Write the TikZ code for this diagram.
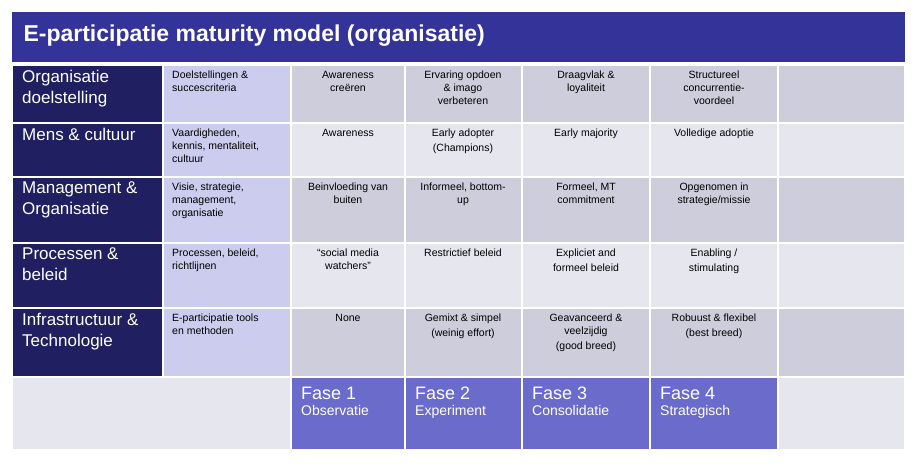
\documentclass[tikz,border=0pt]{standalone}
\usepackage{fontspec}
\setmainfont{Liberation Sans}
\usetikzlibrary{positioning}
\definecolor{titleblue}{HTML}{33339A}
\definecolor{navy}{HTML}{201F62}
\definecolor{lavender}{HTML}{CCCCEE}
\definecolor{rowdark}{HTML}{CDCDDC}
\definecolor{rowlight}{HTML}{E6E6EE}
\definecolor{fase}{HTML}{6B6BCC}
\tikzset{
  box/.style={draw=white, line width=1.5pt},
  cell/.style={anchor=north, align=center, font=\fontsize{10.5}{13}\selectfont, inner sep=0pt},
  lcell/.style={anchor=north west, align=left, font=\fontsize{10.5}{13}\selectfont, inner sep=0pt},
  head/.style={anchor=north west, align=left, text=white, font=\fontsize{17}{21}\selectfont, inner sep=0pt},
}
\begin{document}
\begin{tikzpicture}[x=1pt, y=-1pt]
\useasboundingbox (0,0) rectangle (918,463);
% title
\fill[titleblue] (12,12) rectangle (905,62);
\node[anchor=west, text=white, font=\fontsize{23}{27}\selectfont\bfseries] (title) at (20,36) {E-participatie maturity model (organisatie)};
% rows: top/bottom/colour/header/criteria/fase 1..4
\foreach \r/\t/\b/\c/\h/\k/\a/\bb/\cc/\dd in {
  1/65/123/rowdark/{Organisatie\\doelstelling}/{Doelstellingen \&\\succescriteria}/{Awareness\\creëren}/{Ervaring opdoen\\\& imago\\verbeteren}/{Draagvlak \&\\loyaliteit}/{Structureel\\concurrentie-\\voordeel},
  2/123/177/rowlight/{Mens \& cultuur}/{Vaardigheden,\\kennis, mentaliteit,\\cultuur}/{Awareness}/{Early adopter\\[2pt](Champions)}/{Early majority}/{Volledige adoptie},
  3/177/243/rowdark/{Management \&\\Organisatie}/{Visie, strategie,\\management,\\organisatie}/{Beinvloeding van\\buiten}/{Informeel, bottom-\\up}/{Formeel, MT\\commitment}/{Opgenomen in\\strategie/missie},
  4/243/308/rowlight/{Processen \&\\beleid}/{Processen, beleid,\\richtlijnen}/{“social media\\watchers”}/{Restrictief beleid}/{Expliciet and\\[2pt]formeel beleid}/{Enabling /\\[2pt]stimulating},
  5/308/377/rowdark/{Infrastructuur \&\\Technologie}/{E-participatie tools\\en methoden}/{None}/{Gemixt \& simpel\\[2pt](weinig effort)}/{Geavanceerd \&\\veelzijdig\\[2pt](good breed)}/{Robuust \& flexibel\\[2pt](best breed)}}{
  \fill[navy, box] (12,\t) rectangle (163,\b);
  \fill[lavender, box] (163,\t) rectangle (291,\b);
  \fill[\c, box] (291,\t) rectangle (905,\b);
  \foreach \x in {405,522,650,778} \draw[white, line width=1.5pt] (\x,\t) -- (\x,\b);
  \node[head] (h\r) at (22,\t+5) {\h};
  \node[lcell] (k\r) at (172,\t+6) {\k};
  \node[cell] (p\r1) at (348,\t+6) {\a};
  \node[cell] (p\r2) at (463,\t+6) {\bb};
  \node[cell] (p\r3) at (586,\t+6) {\cc};
  \node[cell] (p\r4) at (714,\t+6) {\dd};
}
% phases
\fill[rowlight, box] (12,377) rectangle (291,450);
\fill[rowlight, box] (778,377) rectangle (905,450);
\foreach \i/\x/\y/\n in {1/291/405/Observatie, 2/405/522/Experiment, 3/522/650/Consolidatie, 4/650/778/Strategisch}{
  \fill[fase, box] (\x,377) rectangle (\y,450);
  \node[anchor=north west, text=white, align=left, inner sep=0pt] (f\i) at (\x+10,387)
    {{\fontsize{18}{20}\selectfont Fase \i}\\[4pt]{\fontsize{14}{16}\selectfont \n}};
}
\end{tikzpicture}
\end{document}
